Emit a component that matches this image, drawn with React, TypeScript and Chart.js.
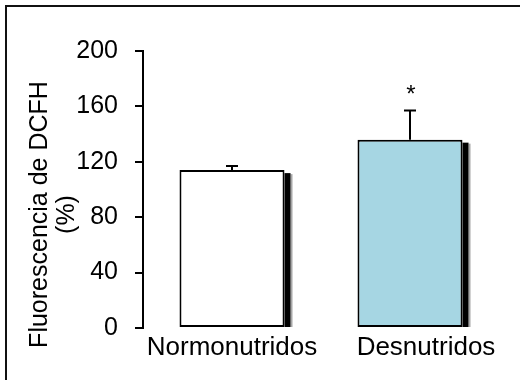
import React, { useEffect, useRef } from "react";
import { Chart, registerables } from "chart.js";

Chart.register(...registerables);

const categories = ["Normonutridos", "Desnutridos"];
const values = [114, 136];
const errors = [3, 21];
const significance = ["", "*"];
const yTicks = [0, 40, 80, 120, 160, 200];
const barColors = ["#ffffff", "#a6d6e3"];
const yTitle = ["Fluorescencia de DCFH", "(%)"];

const FONT = '"Liberation Sans", Arial, Helvetica, sans-serif';
const LABEL_SHIFT = [0, 16];

const framePlugin = {
  id: "frame",
  beforeDraw(chart: any) {
    const ctx = chart.ctx;
    ctx.save();
    ctx.fillStyle = "#ffffff";
    ctx.fillRect(0, 0, chart.width, chart.height);
    ctx.strokeStyle = "#111";
    ctx.lineWidth = 2;
    ctx.beginPath();
    ctx.moveTo(6, chart.height);
    ctx.lineTo(6, 6);
    ctx.lineTo(chart.width, 6);
    ctx.stroke();
    ctx.restore();
  },
};

const barExtrasPlugin = {
  id: "barExtras",
  afterDatasetsDraw(chart: any) {
    const ctx = chart.ctx;
    const yScale = chart.scales.y;
    const xScale = chart.scales.x;
    const meta = chart.getDatasetMeta(0);
    ctx.save();
    meta.data.forEach((bar: any, i: number) => {
      const { x, y, width, base } = bar.getProps(["x", "y", "width", "base"], true);
      const right = x + width / 2;
      // drop shadow on the right side
      ctx.fillStyle = "#000";
      ctx.fillRect(right, y + 3, 6, base - y - 3);
      ctx.fillStyle = "rgba(0,0,0,0.35)";
      ctx.fillRect(right + 6, y + 4, 2, base - y - 4);
      // error bar
      const topPx = yScale.getPixelForValue(values[i] + errors[i]);
      ctx.strokeStyle = "#000";
      ctx.lineWidth = 2;
      ctx.beginPath();
      ctx.moveTo(x, y);
      ctx.lineTo(x, topPx);
      ctx.moveTo(x - 6, topPx);
      ctx.lineTo(x + 6, topPx);
      ctx.stroke();
      // significance mark
      if (significance[i]) {
        ctx.fillStyle = "#000";
        ctx.font = `24px ${FONT}`;
        ctx.textAlign = "center";
        ctx.textBaseline = "alphabetic";
        ctx.fillText(significance[i], x + 1, topPx - 9);
      }
    });
    // category labels
    ctx.fillStyle = "#000";
    ctx.font = `26px ${FONT}`;
    ctx.textAlign = "center";
    ctx.textBaseline = "alphabetic";
    categories.forEach((c, i) => {
      const px = xScale.getPixelForValue(i) + LABEL_SHIFT[i];
      ctx.fillText(c, px, xScale.top + 27);
    });
    ctx.restore();
  },
};

const yTitlePlugin = {
  id: "yTitle",
  afterDraw(chart: any) {
    const ctx = chart.ctx;
    const area = chart.chartArea;
    const cy = (area.top + area.bottom) / 2 + 25;
    const baselines = [47, 74];
    ctx.save();
    ctx.fillStyle = "#000";
    ctx.font = `25px ${FONT}`;
    ctx.textAlign = "center";
    ctx.textBaseline = "alphabetic";
    yTitle.forEach((line, i) => {
      ctx.save();
      ctx.translate(baselines[i], cy);
      ctx.rotate(-Math.PI / 2);
      ctx.fillText(line, 0, 0);
      ctx.restore();
    });
    ctx.restore();
  },
};

export default function App() {
  const canvasRef = useRef<HTMLCanvasElement | null>(null);

  useEffect(() => {
    const canvas = canvasRef.current;
    if (!canvas) return;
    const chart = new Chart(canvas, {
      type: "bar",
      data: {
        labels: categories,
        datasets: [
          {
            data: values,
            backgroundColor: barColors,
            borderColor: "#000",
            borderWidth: 2,
            borderSkipped: false,
            barPercentage: 0.59,
            categoryPercentage: 1,
          },
        ],
      },
      options: {
        animation: false,
        responsive: false,
        devicePixelRatio: 1,
        layout: { padding: { top: 51, right: 21, bottom: 0, left: 0 } },
        plugins: {
          legend: { display: false },
          tooltip: { enabled: false },
        },
        scales: {
          x: {
            type: "category",
            offset: true,
            grid: { display: false, drawTicks: false },
            border: { display: false },
            ticks: { display: false },
            afterFit: (s: any) => {
              s.height = 52;
            },
          },
          y: {
            min: 0,
            max: 200,
            afterBuildTicks: (s: any) => {
              s.ticks = yTicks.map((v) => ({ value: v }));
            },
            grid: {
              drawOnChartArea: false,
              drawTicks: true,
              tickLength: 8,
              color: "#000",
              lineWidth: 2,
            },
            border: { display: true, color: "#000", width: 2 },
            ticks: {
              color: "#000",
              font: { family: FONT, size: 25 },
              padding: 17,
            },
            afterFit: (s: any) => {
              s.width = 143;
            },
          },
        },
      },
      plugins: [framePlugin, barExtrasPlugin, yTitlePlugin],
    } as any);
    return () => chart.destroy();
  }, []);

  return (
    <div style={{ position: "fixed", left: 0, top: 0, width: 520, height: 380, background: "#fff" }}>
      <canvas ref={canvasRef} width={520} height={380} style={{ display: "block", width: 520, height: 380 }} />
    </div>
  );
}
